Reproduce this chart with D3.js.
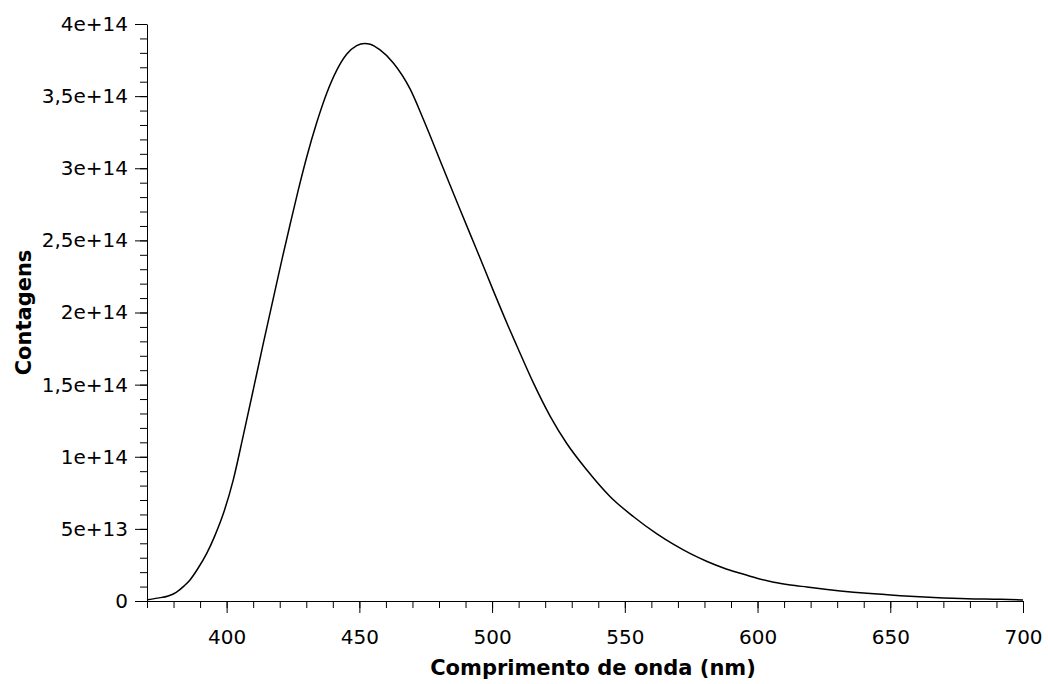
<!DOCTYPE html>
<html>
<head>
<meta charset="utf-8">
<script src="https://cdn.jsdelivr.net/npm/d3@7"></script>
<style>
  body { margin: 0; background: #fff; }
  svg text { font-family: "DejaVu Sans", Verdana, sans-serif; fill: #000; }
</style>
</head>
<body>
<svg id="chart" width="1048" height="684"></svg>
<script>
// Wavelength (nm) and counts
const wavelengths = [370, 374, 378, 381, 384, 386.2, 389, 392.5, 395.5, 398.8, 402.5, 406.3, 410.1, 413.5,
  417.6, 421, 423.9, 427, 430.2, 434, 437.7, 441.5, 445.2, 449, 452, 454.1, 457.8, 462.8, 469.1, 474.1,
  481.6, 488, 494.3, 500.5, 506.2, 509.3, 515.6, 521.9, 528.2, 535.7, 544.5, 553.3, 562.1, 568.4, 574.7,
  581, 587.2, 593.5, 599.8, 606.1, 612.4, 618.6, 626.2, 631.2, 641.2, 653.8, 666.4, 679, 691.5, 700];
const counts = [0.08e13, 0.2e13, 0.35e13, 0.6e13, 1.05e13, 1.46e13, 2.2e13, 3.3e13, 4.5e13, 6.08e13, 8.4e13,
  11.5e13, 14.7e13, 17.6e13, 21.0e13, 23.8e13, 26.1e13, 28.5e13, 30.8e13, 33.2e13, 35.2e13, 36.8e13, 37.9e13,
  38.5e13, 38.65e13, 38.6e13, 38.2e13, 37.3e13, 35.5e13, 33.4e13, 30.0e13, 27.1e13, 24.3e13, 21.5e13, 19.0e13,
  17.7e13, 15.1e13, 12.8e13, 10.9e13, 9.08e13, 7.23e13, 5.84e13, 4.65e13, 3.92e13, 3.28e13, 2.74e13, 2.29e13,
  1.92e13, 1.58e13, 1.30e13, 1.11e13, 0.97e13, 0.80e13, 0.70e13, 0.53e13, 0.37e13, 0.25e13, 0.16e13, 0.12e13,
  0.07e13];

const xMajorTicks = [400, 450, 500, 550, 600, 650, 700];
const yMajorTicks = [0, 5e13, 1e14, 1.5e14, 2e14, 2.5e14, 3e14, 3.5e14, 4e14];

const xTitle = "Comprimento de onda (nm)";
const yTitle = "Contagens";

const svg = d3.select("#chart");
const margin = { left: 147, right: 25, top: 24, bottom: 83 };
const width = 1048 - margin.left - margin.right;
const height = 684 - margin.top - margin.bottom;

const x = d3.scaleLinear().domain([370, 700]).range([0, width]);
const y = d3.scaleLinear().domain([0, 4e14]).range([height, 0]);

// "3,5e+14" style labels
function sciComma(v) {
  if (v === 0) return "0";
  const e = Math.floor(Math.log10(v) + 1e-9);
  const m = +(v / Math.pow(10, e)).toFixed(2);
  return String(m).replace(".", ",") + "e+" + e;
}

const g = svg.append("g").attr("transform", `translate(${margin.left},${margin.top})`);

// minor ticks
g.append("g")
  .attr("transform", `translate(0,${height})`)
  .call(d3.axisBottom(x).tickValues(d3.range(370, 701, 10)).tickSize(7).tickFormat(""))
  .call(a => a.select(".domain").remove());
g.append("g")
  .call(d3.axisLeft(y).tickValues(d3.range(0, 4e14 + 1, 1e13)).tickSize(7).tickFormat(""))
  .call(a => a.select(".domain").remove());

// major axes
const xAxis = g.append("g")
  .attr("transform", `translate(0,${height})`)
  .call(d3.axisBottom(x).tickValues(xMajorTicks).tickSize(12).tickPadding(17).tickSizeOuter(0));
const yAxis = g.append("g")
  .call(d3.axisLeft(y).tickValues(yMajorTicks).tickFormat(sciComma).tickSize(12).tickPadding(7).tickSizeOuter(0));

[xAxis, yAxis].forEach(a => {
  a.selectAll("text").style("font-size", "20px").attr("fill", "#000");
  a.selectAll("line, path").attr("stroke", "#000");
});

// spectrum line
const data = wavelengths.map((w, i) => [w, counts[i]]);
g.append("path")
  .datum(data)
  .attr("fill", "none")
  .attr("stroke", "#000")
  .attr("stroke-width", 1.5)
  .attr("d", d3.line().x(d => x(d[0])).y(d => y(d[1])).curve(d3.curveMonotoneX));

// axis titles
svg.append("text")
  .attr("x", margin.left + width / 2 + 8)
  .attr("y", 675)
  .attr("text-anchor", "middle")
  .style("font-size", "21px")
  .style("font-weight", "bold")
  .text(xTitle);

svg.append("text")
  .attr("transform", `translate(31,${margin.top + height / 2}) rotate(-90)`)
  .attr("text-anchor", "middle")
  .style("font-size", "21px")
  .style("font-weight", "bold")
  .text(yTitle);
</script>
</body>
</html>
